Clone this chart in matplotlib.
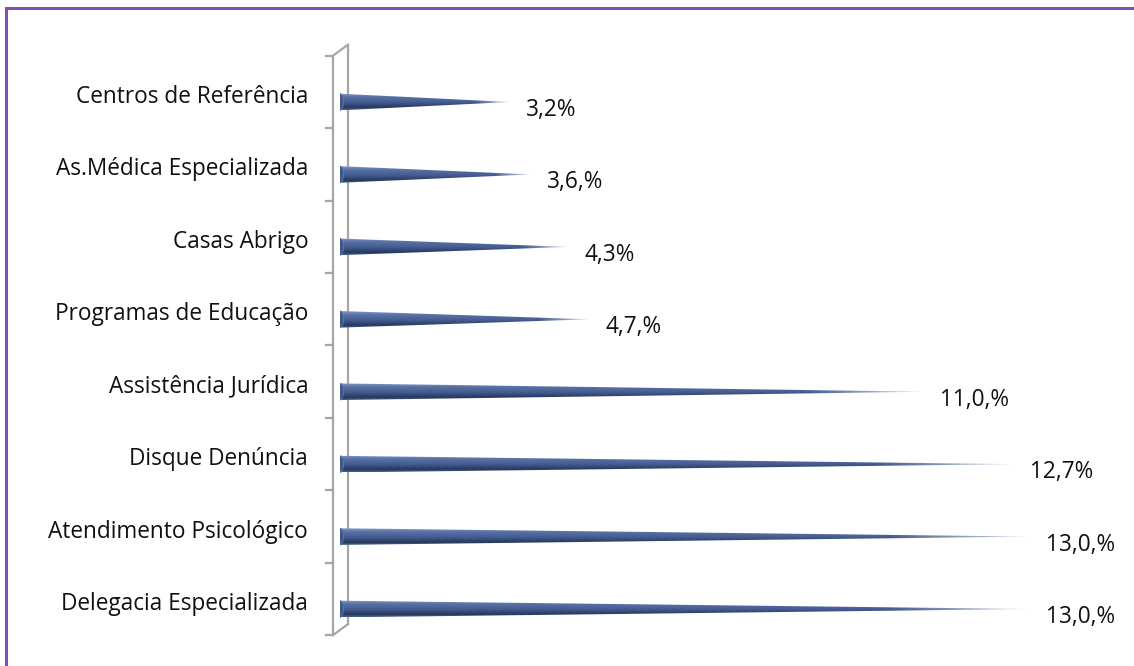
import numpy as np
import matplotlib
matplotlib.use("Agg")
from matplotlib import pyplot as plt
from matplotlib.patches import Polygon, Ellipse, Rectangle
from matplotlib.colors import to_rgb

plt.rcParams['font.family'] = ['Open Sans', 'DejaVu Sans']

# services, bottom to top
categories = [
    "Delegacia Especializada",
    "Atendimento Psicológico",
    "Disque Denúncia",
    "Assistência Jurídica",
    "Programas de Educação",
    "Casas Abrigo",
    "As.Médica Especializada",
    "Centros de Referência",
]
values = [13.0, 13.0, 12.7, 11.0, 4.7, 4.3, 3.6, 3.2]
value_labels = ["13,0,%", "13,0,%", "12,7%", "11,0,%", "4,7,%", "4,3%", "3,6,%", "3,2%"]

W, H, DPI = 1134, 666, 100
fig = plt.figure(figsize=(W / DPI, H / DPI), dpi=DPI)
fig.patch.set_facecolor("white")

# axes placed so that 0..13 spans the cone lengths
ax = fig.add_axes([340 / W, 0.0312, 690 / W, 0.870])
ax.set_xlim(0, 13)
ax.set_ylim(-0.5, 7.5)
ax.axis("off")

n = len(categories)
half_h = 0.115
fs = 16.3

# vertical shading of a cone: light top, dark bottom
stops = [(0.0, "#8a9fca"), (0.2, "#5b74a8"), (0.55, "#435b8e"),
         (0.85, "#27385c"), (1.0, "#4d6189")]
rows = 60
ys = np.linspace(0, 1, rows)
grad = np.zeros((rows, 3))
for c in range(3):
    grad[:, c] = np.interp(ys, [s[0] for s in stops], [to_rgb(s[1])[c] for s in stops])

cols = 200
tip_col = np.array(to_rgb("#d5dbe6"))
xs = np.linspace(0, 1, cols)
fade = np.clip((xs - 0.8) / 0.2, 0, 1)[None, :, None]
img = grad[:, None, :] * (1 - fade) + tip_col[None, None, :] * fade

for i, (v, lab) in enumerate(zip(values, value_labels)):
    y = i
    cone = Polygon([(0, y + half_h), (v, y), (0, y - half_h)], closed=True,
                   facecolor="none", edgecolor="none")
    ax.add_patch(cone)
    im = ax.imshow(img, extent=[0, v, y - half_h, y + half_h], aspect="auto",
                   origin="upper", interpolation="bilinear", zorder=2)
    im.set_clip_path(cone)
    ax.add_patch(Ellipse((0, y), 0.13, 2 * half_h, facecolor="#3f5688",
                         edgecolor="#5f77aa", linewidth=0.6, zorder=3))
    ax.text(v + 0.3, y - 0.11, lab, fontsize=fs, ha="left", va="center",
            color="#111111", clip_on=False)
    ax.text(-0.6, y + 0.07, categories[i], fontsize=fs, ha="right",
            va="center", color="#111111", clip_on=False)

# the grey 3d wall behind the category axis
wall = "#a6a6a6"
xl, xr, xt = -0.132, 0.151, -0.264
yb, yt, dz = -0.36, n - 0.36, 0.152
ax.plot([xl, xl], [yb, yt], color=wall, lw=1.6, clip_on=False, zorder=1)
ax.plot([xr, xr], [yb + dz, yt + dz], color=wall, lw=1.6, clip_on=False, zorder=1)
ax.plot([xl, xr], [yt, yt + dz], color=wall, lw=1.6, clip_on=False, zorder=1)
ax.plot([xl, xr], [yb, yb + dz], color=wall, lw=1.6, clip_on=False, zorder=1)
for k in range(n + 1):
    ax.plot([xt, xl], [yb + k, yb + k], color=wall, lw=1.6, clip_on=False, zorder=1)

# purple frame around the chart
fig.patches.append(Rectangle((6 / W, -0.2), 1.2, (H - 8) / H + 0.2,
                             transform=fig.transFigure, fill=False,
                             edgecolor="#8050b4", linewidth=2.2))

fig.savefig("out.png", dpi=DPI)
